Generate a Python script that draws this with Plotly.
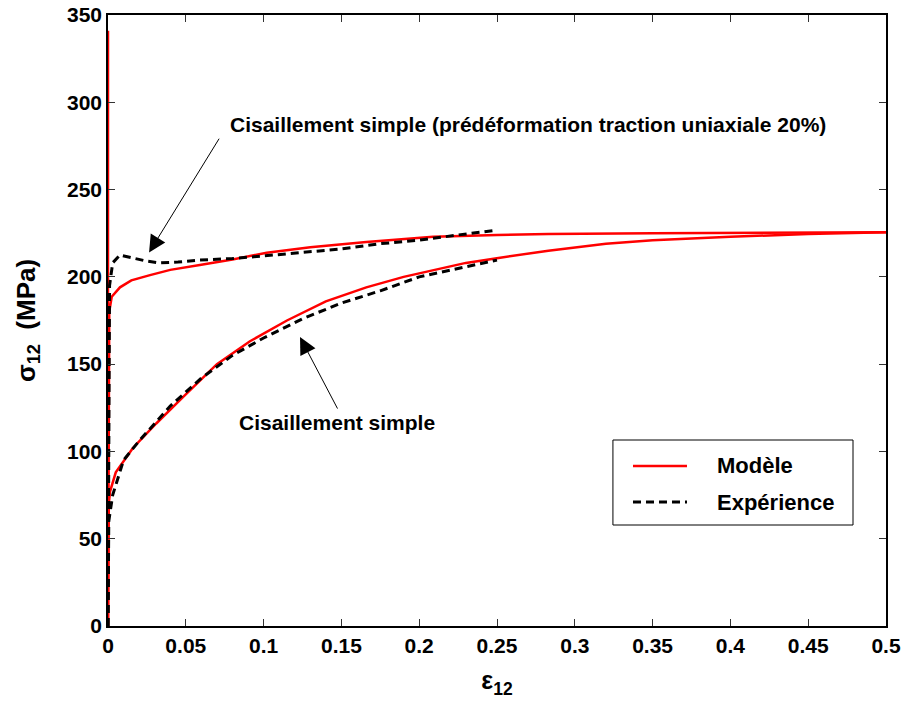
import plotly.graph_objects as go

# Simple shear — model
ss_model_x = [0, 0.0005, 0.0013, 0.005, 0.016, 0.031, 0.048, 0.07, 0.091, 0.115, 0.14, 0.166, 0.19, 0.209, 0.23, 0.252, 0.283, 0.32, 0.35, 0.4, 0.45, 0.5]
ss_model_y = [0, 70, 77, 88, 102, 116, 131, 150, 163, 175, 186, 194, 200, 204, 208, 211, 215, 219, 221, 223, 224.5, 225.5]
# Simple shear — experiment
ss_exp_x = [0, 0.0005, 0.003, 0.01, 0.02, 0.04, 0.06, 0.08, 0.1, 0.125, 0.15, 0.175, 0.2, 0.225, 0.25]
ss_exp_y = [0, 60, 75, 95, 106, 126, 142, 155, 165, 176, 185, 192, 200, 205, 209.6]
# Prestrained simple shear — model
ps_model_x = [0, 0, 0.0008, 0.0024, 0.0077, 0.015, 0.027, 0.04, 0.059, 0.08, 0.102, 0.13, 0.166, 0.209, 0.25, 0.283, 0.35, 0.4, 0.45, 0.5]
ps_model_y = [341, 0, 180, 188.6, 194, 198, 201, 204, 206.8, 210, 213.8, 217, 220, 223, 224, 224.5, 225, 225.3, 225.5, 225.5]
# Prestrained simple shear — experiment
ps_exp_x = [0, 0.001, 0.003, 0.0077, 0.015, 0.025, 0.033, 0.045, 0.059, 0.08, 0.1, 0.125, 0.15, 0.175, 0.2, 0.225, 0.25]
ps_exp_y = [0, 195, 208, 212.5, 211, 209, 208, 208.5, 209.6, 210.5, 212, 214, 216, 219, 221, 224, 226.8]

x_ticks = [0, 0.05, 0.1, 0.15, 0.2, 0.25, 0.3, 0.35, 0.4, 0.45, 0.5]
x_tick_labels = ["0", "0.05", "0.1", "0.15", "0.2", "0.25", "0.3", "0.35", "0.4", "0.45", "0.5"]
y_ticks = [0, 50, 100, 150, 200, 250, 300, 350]
legend_labels = ["Modèle", "Expérience"]

RED = "#ff0000"
FONT = "Liberation Sans, Arial, sans-serif"
DASH = "8px,5px"

fig = go.Figure()
fig.add_trace(go.Scatter(x=ss_model_x, y=ss_model_y, mode="lines", showlegend=False,
                         line=dict(color=RED, width=2.5)))
fig.add_trace(go.Scatter(x=ps_model_x, y=ps_model_y, mode="lines", showlegend=False,
                         line=dict(color=RED, width=2.5)))
fig.add_trace(go.Scatter(x=ss_exp_x, y=ss_exp_y, mode="lines", showlegend=False,
                         line=dict(color="black", width=3, dash=DASH)))
fig.add_trace(go.Scatter(x=ps_exp_x, y=ps_exp_y, mode="lines", showlegend=False,
                         line=dict(color="black", width=3, dash=DASH)))

font_b = dict(family=FONT, size=21, color="black")

fig.add_annotation(x=0.0264, y=214, ax=0.072, ay=280, xref="x", yref="y", axref="x", ayref="y",
                   showarrow=True, arrowhead=2, arrowsize=3.4, arrowwidth=1, arrowcolor="black", text="")
fig.add_annotation(x=0.0771, y=287, xref="x", yref="y", xanchor="left", yanchor="middle", showarrow=False,
                   text="<b>Cisaillement simple (prédéformation traction uniaxiale 20%)</b>", font=font_b)
fig.add_annotation(x=0.1234, y=165.5, ax=0.148, ay=123.7, xref="x", yref="y", axref="x", ayref="y",
                   showarrow=True, arrowhead=2, arrowsize=3.4, arrowwidth=1, arrowcolor="black", text="")
fig.add_annotation(x=0.1472, y=116.8, xref="x", yref="y", xanchor="center", yanchor="middle", showarrow=False,
                   text="<b>Cisaillement simple</b>", font=font_b)

# Legend drawn in paper coordinates
fig.add_shape(type="rect", xref="paper", yref="paper", x0=0.649, x1=0.9576, y0=0.1653, y1=0.3044,
              line=dict(color="black", width=1), fillcolor="white", layer="above")
fig.add_shape(type="line", xref="paper", yref="paper", x0=0.6748, x1=0.7442, y0=0.2619, y1=0.2619,
              line=dict(color=RED, width=2.5), layer="above")
fig.add_shape(type="line", xref="paper", yref="paper", x0=0.6748, x1=0.7442, y0=0.2029, y1=0.2029,
              line=dict(color="black", width=3, dash=DASH), layer="above")
fig.add_annotation(x=0.7802, y=0.2619, xref="paper", yref="paper", xanchor="left", yanchor="middle",
                   showarrow=False, text="<b>%s</b>" % legend_labels[0], font=dict(family=FONT, size=22, color="black"))
fig.add_annotation(x=0.7802, y=0.2029, xref="paper", yref="paper", xanchor="left", yanchor="middle",
                   showarrow=False, text="<b>%s</b>" % legend_labels[1], font=dict(family=FONT, size=22, color="black"))

axis_common = dict(showgrid=False, zeroline=False, showline=True, linecolor="black", linewidth=1.5,
                   mirror="ticks", ticks="inside", ticklen=7, tickcolor="#333", automargin=False,
                   ticklabeloverflow="allow",
                   tickfont=dict(family=FONT, size=21, color="black"))
fig.update_xaxes(range=[0, 0.5], tickvals=x_ticks, ticktext=["<b>%s</b>" % t for t in x_tick_labels],
                 title=dict(text="<b>ε<sub>12</sub></b>", font=dict(family=FONT, size=25, color="black"), standoff=16),
                 **axis_common)
fig.update_yaxes(range=[0, 350], tickvals=y_ticks, ticktext=["<b>%d</b>" % t for t in y_ticks],
                 title=dict(text="<b>σ<sub>12</sub>  (MPa)</b>", font=dict(family=FONT, size=26, color="black"), standoff=24),
                 **axis_common)

fig.update_layout(
    width=904, height=702,
    margin=dict(l=108, r=18, t=15, b=76),
    plot_bgcolor="white", paper_bgcolor="white",
    showlegend=False,
)

fig.write_html("out.html", config={"displayModeBar": False},
               post_script="document.body.style.margin='0px';")
